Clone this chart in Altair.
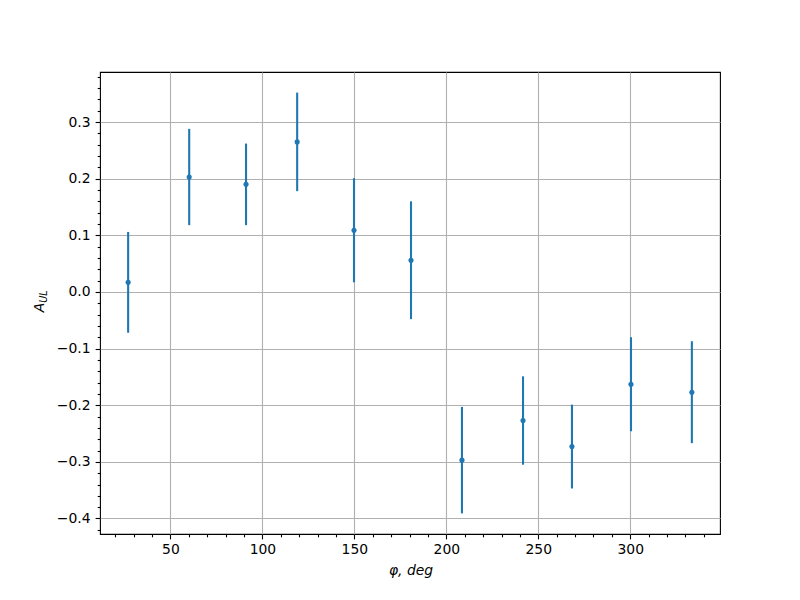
import altair as alt
import pandas as pd

# data
phi = [27.0, 60.2, 91.1, 118.9, 149.8, 180.8, 208.5, 241.7, 268.3, 300.4, 333.5]
a_ul = [0.017, 0.203, 0.190, 0.265, 0.109, 0.056, -0.297, -0.227, -0.273, -0.163, -0.177]
err = [0.089, 0.085, 0.072, 0.087, 0.092, 0.104, 0.094, 0.078, 0.074, 0.083, 0.090]

x_major = [50, 100, 150, 200, 250, 300]
x_ticks = list(range(20, 341, 10))
y_major = [-0.4, -0.3, -0.2, -0.1, 0.0, 0.1, 0.2, 0.3]
y_ticks = [round(k * 0.02, 2) for k in range(-21, 20)]

df = pd.DataFrame({"phi": phi, "a": a_ul, "err": err})
df["lo"] = df["a"] - df["err"]
df["hi"] = df["a"] + df["err"]

BLUE = "#1f77b4"
FONT = "DejaVu Sans"
FS = 13.9

x_major_test = "datum.value % 50 === 0"
y_major_test = "abs(datum.value * 10 - round(datum.value * 10)) < 1e-6"

x_axis = alt.Axis(
    values=x_ticks,
    tickCount=500,
    labelExpr=f"{x_major_test} ? format(datum.value, 'd') : ''",
    tickSize={"condition": {"test": x_major_test, "value": 4.9}, "value": 2.8},
    gridOpacity={"condition": {"test": x_major_test, "value": 1}, "value": 0},
    title="",
    labelPadding=4,
)
y_axis = alt.Axis(
    values=y_ticks,
    tickCount=500,
    labelExpr=f"{y_major_test} ? format(datum.value, '.1f') : ''",
    tickSize={"condition": {"test": y_major_test, "value": 4.9}, "value": 2.8},
    gridOpacity={"condition": {"test": y_major_test, "value": 1}, "value": 0},
    title="",
    labelPadding=5,
)

xs = alt.Scale(domain=[11.7, 348.8], nice=False, zero=False)
ys = alt.Scale(domain=[-0.4274, 0.3884], nice=False, zero=False)

base = alt.Chart(df)
bars = base.mark_rule(color=BLUE, strokeWidth=2.1).encode(
    x=alt.X("phi:Q", scale=xs, axis=x_axis),
    y=alt.Y("lo:Q", scale=ys, axis=y_axis),
    y2="hi:Q",
)
pts = base.mark_circle(color=BLUE, size=26, opacity=1).encode(
    x=alt.X("phi:Q", scale=xs),
    y=alt.Y("a:Q", scale=ys),
)

ytitle_main = alt.Chart(pd.DataFrame({"t": ["A"]})).mark_text(
    angle=270, align="center", baseline="alphabetic", font=FONT,
    fontSize=FS, fontStyle="italic", color="black",
).encode(x=alt.value(-56), y=alt.value(235.5), text="t:N")
ytitle_sub = alt.Chart(pd.DataFrame({"t": ["UL"]})).mark_text(
    angle=270, align="center", baseline="alphabetic", font=FONT,
    fontSize=FS * 0.7, fontStyle="italic", color="black",
).encode(x=alt.value(-53.5), y=alt.value(224.5), text="t:N")
xtitle = alt.Chart(pd.DataFrame({"t": ["φ, deg"]})).mark_text(
    align="center", baseline="alphabetic", font=FONT,
    fontSize=FS, fontStyle="italic", color="black",
).encode(x=alt.value(311), y=alt.value(503), text="t:N")

chart = (
    alt.layer(bars, pts, ytitle_main, ytitle_sub, xtitle)
    .properties(
        width=620,
        height=462,
        autosize=alt.AutoSizeParams(type="none"),
        padding={"left": 92, "top": 64, "right": 72, "bottom": 58},
        background="white",
    )
    .configure_view(stroke="black", strokeWidth=1.1)
    .configure_axis(
        domain=False,
        grid=True,
        gridColor="#b0b0b0",
        gridWidth=1.1,
        tickColor="black",
        tickWidth=1.1,
        labelFont=FONT,
        labelFontSize=FS,
        labelColor="black",
        labelOverlap=False,
        labelFlush=False,
        labelBound=False,
    )
)

chart.save("out.html", embed_options={"renderer": "svg", "actions": False})
